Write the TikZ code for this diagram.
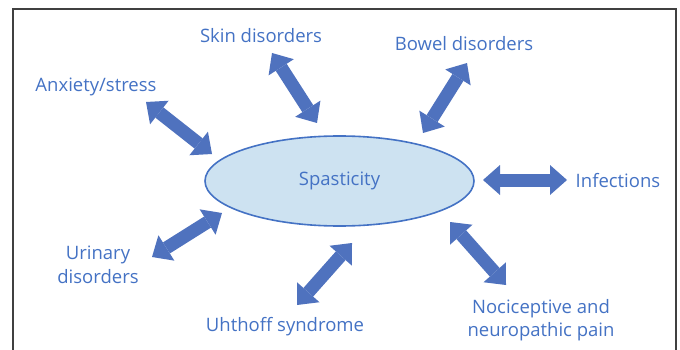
\documentclass[tikz,border=0pt]{standalone}
\usepackage{fontspec}
\setmainfont{Open Sans}
\usetikzlibrary{arrows.meta,shapes.geometric}
\definecolor{txtblue}{HTML}{4472C4}
\definecolor{arrblue}{HTML}{4F72BE}
\definecolor{hubfill}{HTML}{CDE2F1}
\definecolor{frame}{HTML}{404040}

\begin{document}
\begin{tikzpicture}[
    x=1pt, y=-1pt,
    inner sep=0pt,
    label/.style={text=txtblue, font=\fontsize{18.5}{23.5}\selectfont, align=center},
    hub/.style={ellipse, draw=txtblue, line width=1.6pt, fill=hubfill,
      minimum width=269pt, minimum height=90pt},
    link/.style={draw=arrblue, line width=13pt,
      {Triangle[length=17pt,width=30pt,line width=0pt]}-{Triangle[length=17pt,width=30pt,line width=0pt]}}
  ]
  \useasboundingbox (0,0) rectangle (680,350);
  \draw[frame, line width=1.8pt] (13,352) -- (13,9) -- (676,9) -- (676,352);

  \node (spast) [hub, label] at (339.5,181) {Spasticity};

  \node (anx)   [label] at (96,87)   {Anxiety/stress};
  \node (skin)  [label] at (261,36)  {Skin disorders};
  \node (bowel) [label] at (464,44)  {Bowel disorders};
  \node (inf)   [label] at (618,181) {Infections};
  \node (noci)  [label] at (541,320) {Nociceptive and\\neuropathic pain};
  \node (uht)   [label] at (285,327) {Uhthoff syndrome};
  \node (uri)   [label] at (98,265)  {Urinary\\disorders};

  % arrow ends, outer and inner
  \coordinate (anx-o)   at (146,102); \coordinate (anx-i)   at (212,154);
  \coordinate (skin-o)  at (272,53);  \coordinate (skin-i)  at (317,123);
  \coordinate (bowel-o) at (467,63);  \coordinate (bowel-i) at (423,133);
  \coordinate (inf-o)   at (567,180); \coordinate (inf-i)   at (483,180);
  \coordinate (noci-o)  at (506,285); \coordinate (noci-i)  at (450,222);
  \coordinate (uht-o)   at (297,305); \coordinate (uht-i)   at (352,243);
  \coordinate (uri-o)   at (152,257); \coordinate (uri-i)   at (222,213);

  \foreach \n in {anx,skin,bowel,inf,noci,uht,uri}
    \draw[link] (\n-o) -- (\n-i);
\end{tikzpicture}
\end{document}
